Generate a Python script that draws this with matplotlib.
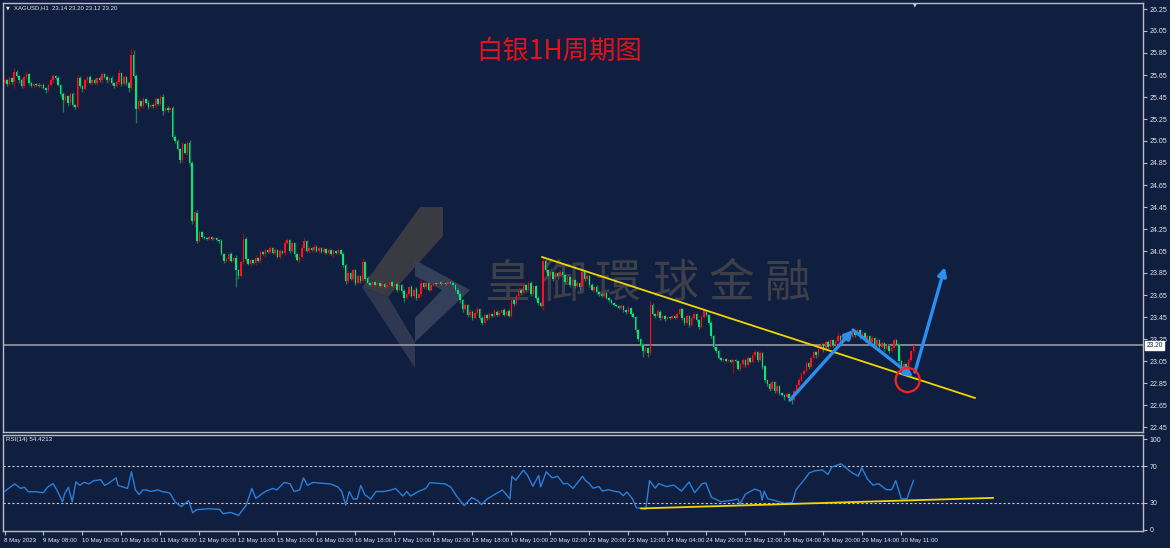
import numpy as np
import matplotlib
matplotlib.use("Agg")
import matplotlib.pyplot as plt
from matplotlib.patches import Ellipse, Polygon
from matplotlib.transforms import blended_transform_factory

# ── data: XAGUSD H1, 374 bars (close per bar, open = previous close) ──────────
first_open = 25.58
closes = [
    25.60, 25.57, 25.62, 25.59, 25.68, 25.64, 25.60, 25.55, 25.63, 25.66, 25.58, 25.55, 25.57, 25.56, 25.55, 25.56,
    25.53, 25.51, 25.56, 25.60, 25.64, 25.62, 25.56, 25.48, 25.42, 25.46, 25.40, 25.48, 25.38, 25.36, 25.62, 25.55,
    25.52, 25.60, 25.63, 25.58, 25.60, 25.58, 25.62, 25.60, 25.66, 25.63, 25.60, 25.62, 25.58, 25.55, 25.59, 25.67,
    25.57, 25.63, 25.58, 25.53, 25.83, 25.64, 25.34, 25.41, 25.37, 25.43, 25.40, 25.36, 25.38, 25.37, 25.43, 25.39,
    25.45, 25.32, 25.35, 25.33, 25.35, 25.09, 25.05, 24.98, 24.88, 25.02, 24.94, 25.03, 24.85, 24.32, 24.40, 24.14,
    24.22, 24.18, 24.17, 24.16, 24.18, 24.16, 24.17, 24.15, 24.14, 24.02, 23.96, 23.98, 24.02, 23.96, 23.99, 23.88,
    23.82, 23.95, 24.16, 23.98, 23.93, 23.97, 23.94, 23.99, 23.96, 24.04, 24.02, 24.06, 24.04, 24.08, 24.03, 24.06,
    24.00, 24.05, 24.03, 24.12, 24.15, 24.05, 24.12, 24.02, 23.97, 24.00, 24.08, 24.14, 24.05, 24.08, 24.06, 24.09,
    24.05, 24.08, 24.04, 24.07, 24.03, 24.06, 24.02, 24.05, 24.03, 24.06, 24.02, 23.92, 23.78, 23.85, 23.80, 23.88,
    23.76, 23.82, 23.78, 23.95, 23.80, 23.76, 23.74, 23.77, 23.74, 23.76, 23.73, 23.75, 23.72, 23.74, 23.77, 23.73,
    23.75, 23.70, 23.74, 23.69, 23.62, 23.66, 23.72, 23.64, 23.70, 23.62, 23.66, 23.76, 23.72, 23.76, 23.70, 23.74,
    23.76, 23.75, 23.77, 23.75, 23.76, 23.75, 23.77, 23.76, 23.74, 23.70, 23.66, 23.60, 23.52, 23.56, 23.47, 23.50,
    23.44, 23.49, 23.52, 23.44, 23.40, 23.47, 23.44, 23.48, 23.46, 23.50, 23.47, 23.49, 23.51, 23.47, 23.50, 23.46,
    23.60, 23.57, 23.64, 23.70, 23.67, 23.74, 23.70, 23.76, 23.66, 23.73, 23.62, 23.58, 23.55, 23.96, 23.88, 23.82,
    23.86, 23.80, 23.85, 23.82, 23.86, 23.83, 23.77, 23.81, 23.74, 23.79, 23.73, 23.76, 23.72, 23.86, 23.80, 23.82,
    23.74, 23.70, 23.72, 23.68, 23.66, 23.64, 23.67, 23.62, 23.60, 23.58, 23.56, 23.55, 23.53, 23.55, 23.51, 23.50,
    23.53, 23.48, 23.45, 23.33, 23.25, 23.20, 23.14, 23.17, 23.12, 23.56, 23.48, 23.46, 23.50, 23.44, 23.46, 23.43,
    23.45, 23.44, 23.46, 23.44, 23.48, 23.52, 23.44, 23.40, 23.46, 23.38, 23.44, 23.48, 23.42, 23.36, 23.45, 23.50,
    23.47, 23.40, 23.28, 23.18, 23.14, 23.08, 23.06, 23.07, 23.05, 23.06, 23.04, 23.06, 23.05, 22.98, 23.02, 23.06,
    23.01, 23.08, 23.04, 23.10, 23.13, 23.06, 23.12, 23.00, 22.88, 22.84, 22.80, 22.86, 22.78, 22.82, 22.76, 22.74,
    22.72, 22.75, 22.71, 22.70, 22.78, 22.83, 22.88, 22.93, 22.96, 23.03, 23.00, 23.08, 23.13, 23.10, 23.16, 23.20,
    23.15, 23.22, 23.18, 23.24, 23.20, 23.23, 23.28, 23.24, 23.29, 23.26, 23.30, 23.27, 23.32, 23.29, 23.33, 23.27,
    23.30, 23.24, 23.28, 23.22, 23.26, 23.20, 23.24, 23.18, 23.21, 23.16, 23.19, 23.14, 23.17, 23.24, 23.20, 23.05,
    22.99, 23.02, 22.98, 23.06, 23.14, 23.20,
]
# wick lengths beyond the body, in cents
wick_up = [
    2, 1, 2, 1, 3, 2, 1, 2, 2, 3, 1, 2, 1, 1, 2, 1,
    2, 1, 2, 2, 2, 1, 2, 1, 2, 3, 1, 2, 2, 1, 3, 2,
    1, 2, 1, 2, 1, 2, 1, 2, 2, 1, 2, 1, 2, 1, 2, 3,
    1, 2, 1, 2, 7, 5, 2, 2, 1, 2, 1, 2, 1, 2, 2, 1,
    2, 3, 1, 2, 1, 2, 1, 2, 1, 2, 1, 2, 3, 2, 1, 2,
    2, 1, 1, 1, 1, 1, 1, 1, 1, 2, 1, 2, 1, 2, 1, 2,
    1, 2, 5, 2, 1, 2, 1, 2, 1, 2, 1, 2, 1, 2, 1, 2,
    1, 2, 1, 3, 2, 1, 2, 1, 1, 2, 3, 4, 1, 2, 1, 2,
    1, 2, 1, 2, 1, 2, 1, 2, 1, 2, 1, 2, 1, 2, 1, 2,
    1, 2, 1, 4, 1, 2, 1, 2, 1, 2, 1, 1, 1, 2, 1, 1,
    1, 2, 1, 1, 1, 2, 1, 2, 1, 2, 1, 4, 1, 2, 1, 1,
    1, 1, 1, 1, 1, 1, 1, 1, 1, 1, 1, 2, 1, 2, 1, 2,
    1, 2, 2, 1, 2, 2, 1, 2, 1, 2, 1, 2, 1, 2, 1, 2,
    2, 1, 2, 2, 1, 2, 1, 2, 2, 1, 1, 2, 1, 4, 2, 1,
    2, 1, 2, 1, 2, 1, 1, 2, 1, 2, 1, 2, 1, 2, 1, 2,
    1, 2, 1, 2, 1, 2, 1, 1, 1, 1, 1, 1, 1, 2, 1, 1,
    2, 1, 2, 1, 1, 1, 1, 2, 1, 4, 2, 1, 2, 1, 2, 1,
    1, 1, 1, 1, 2, 2, 1, 1, 2, 1, 2, 2, 1, 1, 2, 2,
    1, 1, 1, 1, 1, 1, 1, 1, 1, 1, 1, 1, 1, 1, 1, 2,
    1, 2, 1, 2, 2, 1, 2, 1, 1, 1, 1, 2, 1, 1, 1, 1,
    1, 2, 1, 1, 2, 2, 2, 2, 2, 2, 1, 2, 2, 1, 2, 2,
    1, 2, 2, 2, 1, 2, 3, 1, 2, 1, 2, 1, 2, 1, 2, 1,
    2, 1, 2, 1, 2, 1, 2, 1, 2, 1, 2, 1, 2, 2, 1, 1,
    1, 2, 1, 2, 1, 0,
]
wick_dn = [
    1, 2, 1, 2, 6, 1, 2, 2, 1, 2, 2, 1, 2, 1, 1, 2,
    1, 2, 1, 1, 2, 2, 1, 2, 11, 2, 3, 2, 2, 2, 1, 2,
    2, 1, 2, 1, 2, 1, 2, 1, 2, 1, 2, 1, 2, 2, 1, 2,
    2, 1, 2, 3, 2, 2, 13, 2, 1, 2, 1, 2, 1, 2, 2, 1,
    2, 3, 1, 2, 1, 2, 2, 1, 3, 2, 1, 2, 3, 2, 5, 2,
    1, 1, 1, 1, 1, 1, 1, 1, 2, 1, 2, 1, 2, 1, 2, 16,
    2, 1, 2, 2, 1, 2, 1, 2, 1, 2, 1, 2, 1, 2, 1, 2,
    1, 2, 1, 2, 1, 2, 1, 2, 1, 3, 1, 2, 1, 2, 1, 2,
    1, 2, 1, 2, 1, 2, 1, 2, 1, 2, 1, 2, 3, 2, 1, 2,
    2, 1, 2, 1, 2, 1, 1, 1, 1, 1, 1, 1, 1, 1, 1, 1,
    1, 2, 1, 2, 3, 1, 2, 1, 2, 2, 1, 2, 1, 2, 1, 1,
    1, 1, 1, 1, 1, 1, 1, 1, 1, 2, 1, 2, 2, 1, 2, 2,
    2, 1, 1, 2, 2, 1, 2, 1, 1, 1, 1, 1, 1, 1, 1, 1,
    1, 2, 1, 1, 2, 1, 2, 1, 2, 1, 2, 2, 1, 4, 2, 1,
    1, 2, 1, 2, 1, 2, 2, 1, 2, 1, 2, 1, 2, 1, 2, 1,
    2, 1, 2, 1, 2, 1, 2, 1, 1, 1, 1, 1, 1, 1, 1, 2,
    1, 2, 1, 2, 2, 2, 5, 2, 3, 2, 1, 2, 1, 2, 1, 2,
    1, 1, 1, 1, 1, 2, 2, 2, 1, 2, 1, 1, 2, 2, 1, 1,
    1, 2, 2, 2, 2, 1, 1, 1, 1, 1, 1, 10, 1, 1, 2, 2,
    1, 1, 1, 1, 1, 2, 1, 2, 2, 2, 2, 1, 2, 2, 2, 1,
    2, 1, 2, 4, 1, 1, 1, 1, 1, 1, 2, 1, 1, 2, 1, 1,
    2, 1, 2, 1, 2, 1, 1, 2, 1, 2, 1, 2, 1, 2, 1, 2,
    1, 2, 1, 2, 1, 2, 1, 2, 1, 2, 1, 2, 1, 2, 1, 3,
    2, 1, 2, 1, 1, 2,
]

# RSI(14): bar position -> value
rsi_bar = [0, 4.2, 6.6, 8.2, 9.7, 12.9, 16, 17.6, 19.9, 21.5, 23.8, 24.6, 26.2, 27.8, 29.3, 30.9,
           32.5, 34.8, 36.4, 39.5, 41.1, 42.7, 45.8, 46.6, 49, 50.5, 52.1, 53.7, 55.2, 56.8, 58.4, 59.9,
           63.1, 64.6, 67.8, 70.1, 72.5, 75.6, 77.2, 78.8, 83.5, 88.2, 89.7, 92.9, 96, 99.2, 101.5, 103.1,
           107, 110.1, 111.7, 114.8, 117.2, 118.8, 121.1, 122.7, 124.3, 126.6, 130.5, 133.7, 136.8, 138.4,
           140, 141.5, 143.1, 144.7, 146.2, 147.8, 150.2, 152.5, 155.6, 158.8, 160.4, 163.5, 165.1, 166.6,
           169.8, 172.9, 174.5, 177.6, 180.7, 183.1, 185.5, 188.6, 191.7, 194.1, 195.7, 198, 201.1, 204.3,
           205.9, 207.4, 208.2, 209.8, 212.9, 214.5, 216.8, 219.2, 220, 222.3, 224.7, 227, 229.4, 231,
           233.3, 237.2, 238.5, 240, 241.5, 243.9, 245.4, 247.7, 250, 252.3, 253.9, 255.4, 257.7, 259.3,
           261.6, 263.1, 264.7, 267, 268.5, 271.6, 274.7, 277.8, 280.9, 283.2, 286.3, 287.8, 290.1, 294,
           298.6, 300.9, 301.7, 304, 307.8, 310.2, 310.9, 311.7, 313.2, 315.6, 320.2, 323.3, 324.8, 327.9,
           330.2, 332.5, 335.6, 337.9, 339.5, 343.3, 345.6, 347.9, 350.3, 351.8, 354.1, 356.4, 358.7, 361.8,
           364.1, 365.7, 368, 370.3, 373]
rsi_val = [42.3, 50.7, 45.7, 47, 42, 42, 41, 47, 51, 44, 31, 39.3, 47, 31, 53, 49,
           52.3, 50.7, 54, 55.3, 49, 51.3, 57.3, 49, 47, 45.7, 64, 44, 39, 44, 44, 42.3,
           44, 42.3, 40.7, 30.7, 25.7, 32.3, 19, 22.3, 23.3, 22.7, 18, 19.3, 16, 27.3,
           45.7, 34.7, 42.3, 45.7, 44, 52.3, 50.7, 42.3, 44, 57.3, 49, 52.3, 51.3, 50.7, 47.3, 42.3,
           27.3, 42.3, 34, 34, 49, 39, 34, 42.3, 42.3, 44, 45.7, 37.3, 42.3, 37.3,
           42.3, 45.7, 52, 51.3, 50.7, 47.3, 37.3, 26.7, 35.7, 32.3, 28, 34, 39, 44,
           39, 34, 59, 54.7, 65.7, 60.7, 48, 60, 47.3, 64, 57.3, 59, 50.7, 51.3,
           45.7, 59, 54, 51, 46, 47.7, 42.7, 44.3, 42.7, 41.7, 37.7, 41.7, 34.3, 24.3,
           23.7, 22.7, 54.3, 46, 51, 47.7, 49.3, 42.7, 52.7, 41, 51, 51.7, 36, 31,
           32.7, 34.3, 28.3, 39.3, 45, 42.7, 32.7, 42.7, 34.3, 32.7, 29.3, 30.3, 44.3, 54.3,
           62.7, 65, 66, 61, 69.3, 72.7, 67.7, 62.7, 59.3, 68.3, 56, 49.3, 51, 44.3,
           44.3, 54.3, 34.3, 34.3, 54.42]

price_ticks = [26.25, 26.05, 25.85, 25.65, 25.45, 25.25, 25.05, 24.85, 24.65, 24.45,
               24.25, 24.05, 23.85, 23.65, 23.45, 23.25, 23.05, 22.85, 22.65, 22.45]
rsi_ticks = [0, 30, 70, 100]
time_ticks = [0, 16, 32, 48, 64, 80, 96, 112, 128, 144, 160, 176, 192, 208, 224, 240,
              256, 272, 288, 304, 320, 336, 352, 368]
time_labels = ["8 May 2023", "9 May 08:00", "10 May 00:00", "10 May 16:00", "11 May 08:00",
               "12 May 00:00", "12 May 16:00", "15 May 10:00", "16 May 02:00", "16 May 18:00",
               "17 May 10:00", "18 May 02:00", "18 May 18:00", "19 May 10:00", "20 May 02:00",
               "22 May 20:00", "23 May 12:00", "24 May 04:00", "24 May 20:00", "25 May 12:00",
               "26 May 04:00", "26 May 20:00", "29 May 14:00", "30 May 11:00"]
last_price = 23.20

# drawn objects (bar position, price)
trend_x, trend_y = [220.6, 398.2], [23.995, 22.714]
rsi_trend_x, rsi_trend_y = [261.2, 405.6], [23.7, 35.3]
arrows = [((322.3, 22.695), (348.2, 23.332)),
          ((348.2, 23.332), (372.8, 22.905)),
          ((373.6, 22.95), (385.9, 23.905))]
circle_xy = (370.6, 22.877)

# ── style ─────────────────────────────────────────────────────────────────────
BG = "#101e3f"
FRAME = "#b9bdc6"
UP, DN = "#ff1020", "#00ea74"
UP_W, DN_W = "#8e1020", "#1f7a5a"
TXT = "#e6e8ee"
FONT = "Liberation Sans"
SMALL = 4.4

W, H = 1170, 548
fig = plt.figure(figsize=(W / 100, H / 100), dpi=100, facecolor=BG)


def rect(x0, y0, x1, y1):
    return [x0 / W, 1 - y1 / H, (x1 - x0) / W, (y1 - y0) / H]


ax = fig.add_axes(rect(3, 3, 1143, 432), facecolor=BG)
ar = fig.add_axes(rect(3, 435, 1143, 531), facecolor=BG)

n = len(closes)
idx = np.arange(n)
c = np.array(closes)
o = np.concatenate([[first_open], c[:-1]])
hi = np.maximum(o, c) + np.array(wick_up) / 100
lo = np.minimum(o, c) - np.array(wick_dn) / 100
up = c >= o

# ── candles ───────────────────────────────────────────────────────────────────
ax.vlines(idx, lo, hi, colors=np.where(up, UP_W, DN_W), lw=1.0, zorder=3)
body = np.maximum(np.abs(c - o), 0.006)
ax.bar(idx, body, bottom=np.minimum(o, c), width=0.62,
       color=np.where(up, UP, DN), lw=0, zorder=4)

ax.axhline(last_price, color="#8a909c", lw=1.3, zorder=2)

# watermark
fx = lambda px: (px - 3) / 1140
fy = lambda py: (432 - py) / 429
logo_dark = [(420, 207), (443, 207), (443, 236), (388, 297), (362, 287)]
logo_mid = [(362, 287), (388, 297), (415, 342), (415, 368)]
logo_light = [(415, 260), (470, 290), (415, 342), (415, 318), (442, 290), (415, 276)]
for pts, col in [(logo_dark, "#3a3a42"), (logo_mid, "#2f3850"), (logo_light, "#34405a")]:
    ax.add_patch(Polygon([(fx(a), fy(b)) for a, b in pts], closed=True,
                         transform=ax.transAxes, facecolor=col, edgecolor="none", zorder=1))
for ch, cx in zip("皇御環球金融", [507, 563, 618, 675, 732, 787]):
    ax.text(fx(cx), fy(284), ch, transform=ax.transAxes, ha="center", va="center",
            fontsize=33, color="#3e4049", family=["Noto Sans CJK TC"], zorder=1)

# trend line, arrows, circle
ax.plot(trend_x, trend_y, color="#f2d600", lw=1.3, zorder=5)
for (x0, y0), (x1, y1) in arrows:
    ax.annotate("", xy=(x1, y1), xytext=(x0, y0),
                arrowprops=dict(arrowstyle="-|>,head_length=0.5,head_width=0.25",
                                color="#2a8ff0", lw=2.4, shrinkA=0, shrinkB=0,
                                mutation_scale=10), zorder=6)
ax.add_patch(Ellipse(circle_xy, 24 / 2.437, 24 / 110, fill=False,
                     edgecolor="#ff2020", lw=1.6, zorder=7))

# axes ranges: bar i sits at pixel 4.5 + 2.437 i, price 26.25 at pixel 9, 110 px per unit
ax.set_xlim((3 - 4.5) / 2.437, (1143 - 4.5) / 2.437)
ax.set_ylim(26.25 - 423 / 110, 26.25 + 6 / 110)
ar.set_xlim(ax.get_xlim())
ar.set_ylim(-1.1, 104.4)

for a in (ax, ar):
    for s in a.spines.values():
        s.set_color(FRAME)
        s.set_linewidth(1.0)
    a.yaxis.tick_right()
    a.tick_params(axis="y", colors=FRAME, length=3, width=0.8, pad=2,
                  labelsize=5.0, labelcolor=TXT)

ax.set_yticks(price_ticks)
ax.set_yticklabels([f"{v:.2f}" for v in price_ticks], family=FONT)
ax.set_xticks([])

# RSI panel
ar.plot(rsi_bar, rsi_val, color="#2a7fda", lw=1.0, zorder=3)
for lvl in (70, 30):
    ar.axhline(lvl, color="#c9cdd6", lw=0.8, ls=(0, (2, 2)), zorder=2)
ar.plot(rsi_trend_x, rsi_trend_y, color="#f2d600", lw=1.3, zorder=4)
ar.set_yticks(rsi_ticks)
ar.set_yticklabels([str(v) for v in rsi_ticks], family=FONT)
ar.set_xticks(time_ticks)
ar.set_xticklabels(time_labels, family=FONT)
ar.tick_params(axis="x", colors=FRAME, length=3, width=0.8, pad=2,
               labelsize=SMALL, labelcolor=TXT)
for lab in ar.get_xticklabels():
    lab.set_ha("left")

# price tag on the axis
ax.text(1.003, last_price - 0.012, f"{last_price:.2f}",
        transform=blended_transform_factory(ax.transAxes, ax.transData),
        ha="left", va="center", fontsize=4.8, family=FONT, color=BG, zorder=8,
        bbox=dict(boxstyle="square,pad=0.15", facecolor="white", edgecolor="white"), clip_on=False)

# header texts
fig.text(6 / W, 1 - 8 / H, "▼", fontsize=3.5, color=TXT, va="center")
fig.text(14 / W, 1 - 8 / H, "XAGUSD,H1  23.14 23.20 23.12 23.20", fontsize=4.3,
         family=FONT, color=TXT, va="center")
fig.text(915 / W, 1 - 5 / H, "▼", fontsize=3.5, color="#c9cdd6", ha="center", va="center")
fig.text(6 / W, 1 - 440 / H, "RSI(14) 54.4213", fontsize=4.5, family=FONT, color=TXT, va="center")
fig.text(559 / W, 1 - 51 / H, "白银1H周期图", fontsize=19, color="#e3121c",
         family=["Noto Sans CJK SC", "DejaVu Sans"], ha="center", va="center")

fig.savefig("out.png", dpi=100, facecolor=BG)
